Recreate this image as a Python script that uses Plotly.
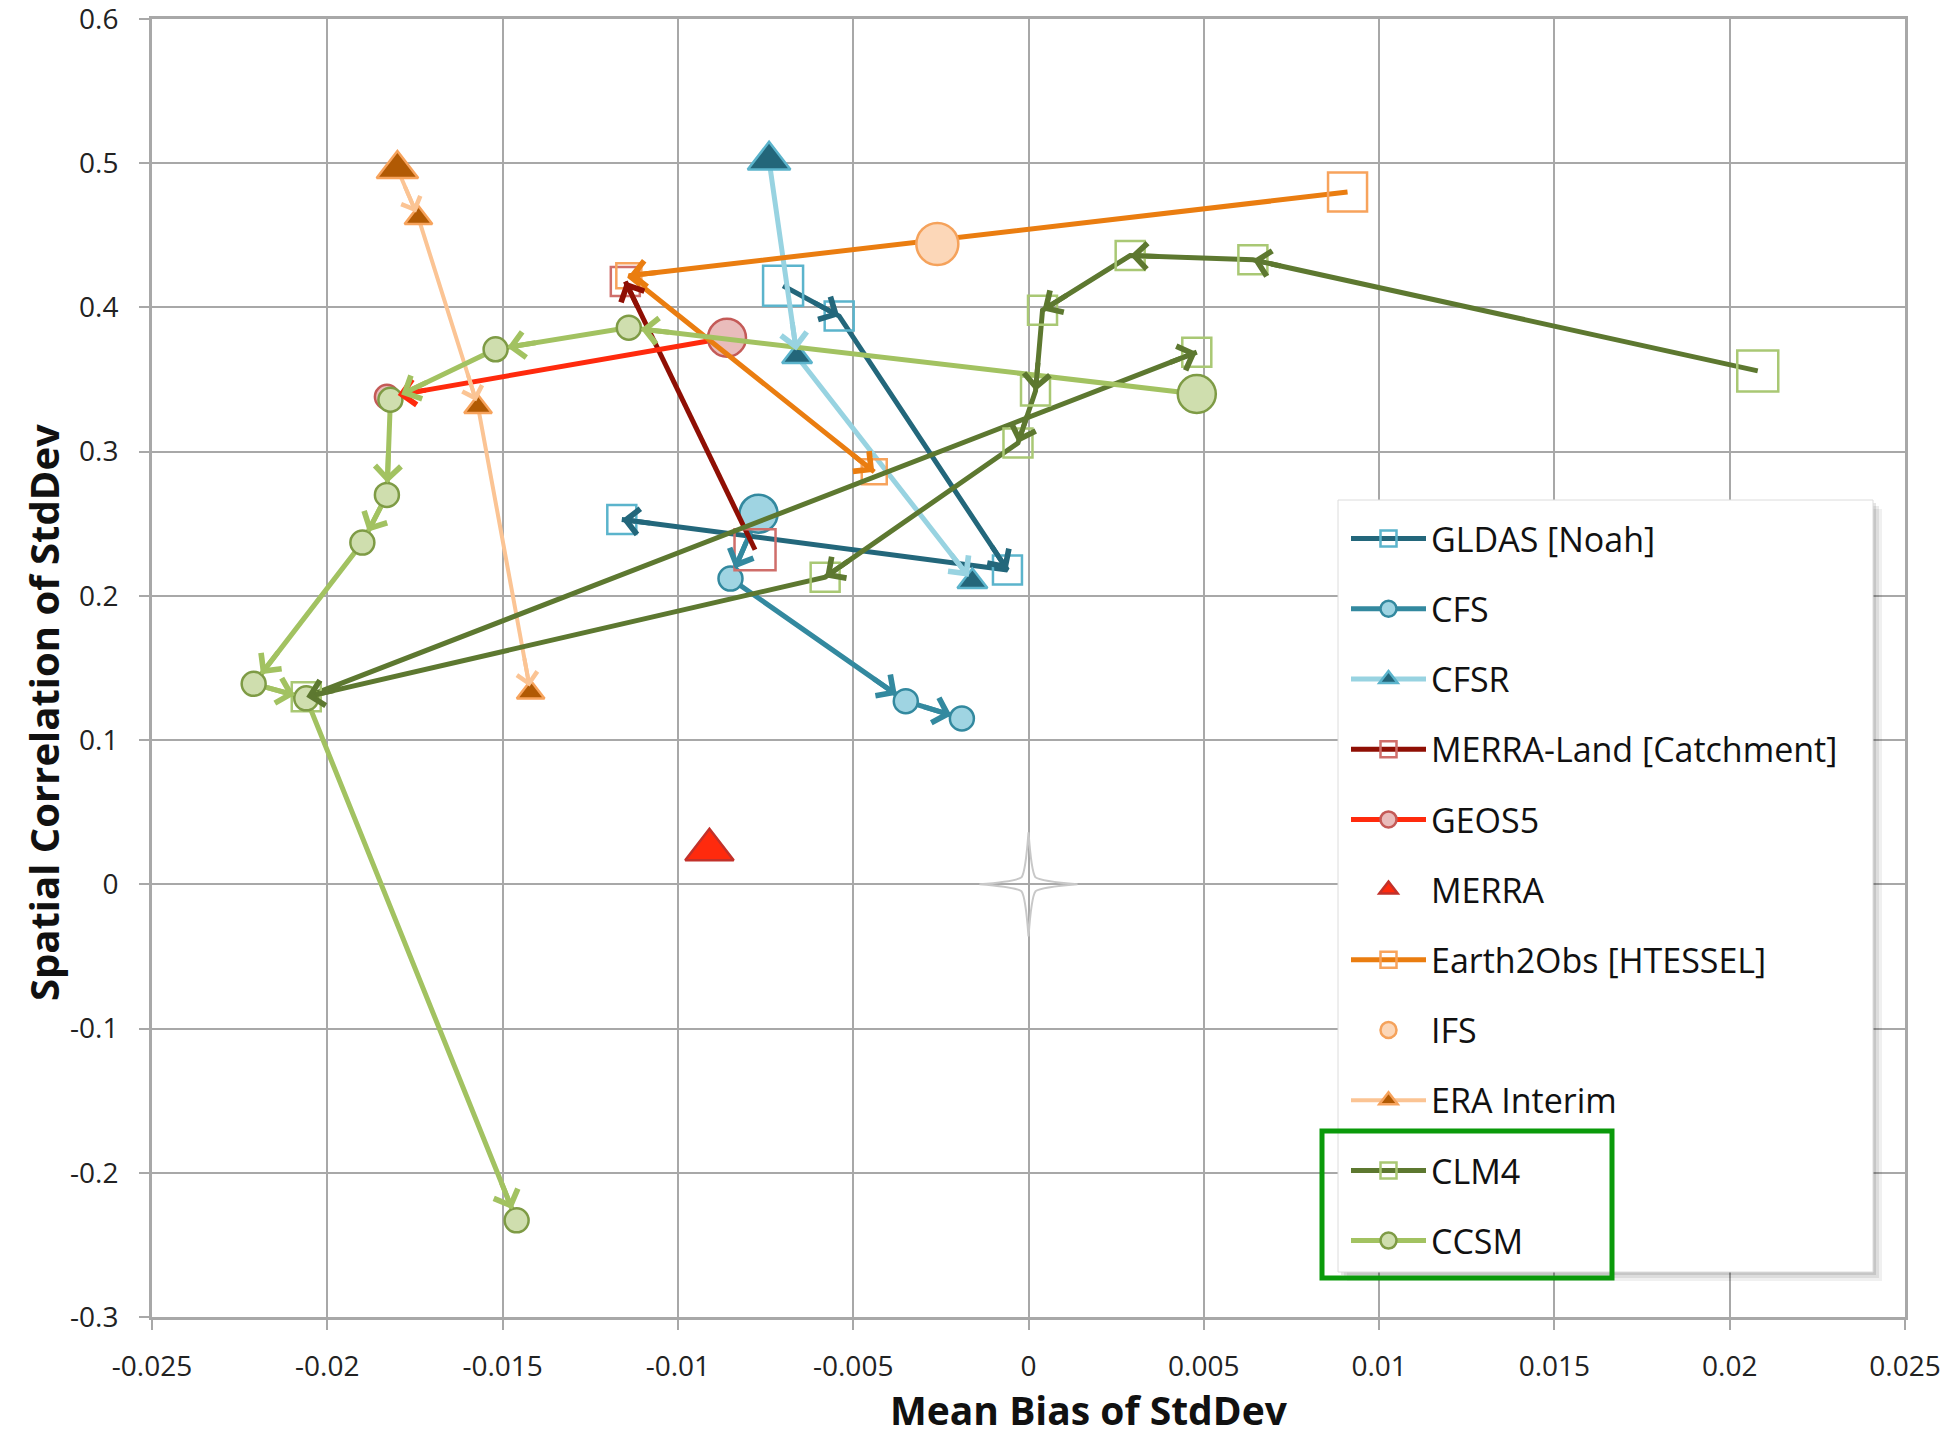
import math
import plotly.graph_objects as go

# Mean bias of StdDev (x) and spatial correlation of StdDev (y) per model run
GLDAS_X = [-0.0070, -0.0054, -0.0006, -0.0116]
GLDAS_Y = [0.415, 0.394, 0.218, 0.253]
CFS_X = [-0.0077, -0.0085, -0.0035, -0.0019]
CFS_Y = [0.257, 0.212, 0.127, 0.115]
CFSR_X = [-0.0074, -0.0066, -0.0016]
CFSR_Y = [0.502, 0.366, 0.210]
MERRA_LAND_X = [-0.0078, -0.0115]
MERRA_LAND_Y = [0.232, 0.418]
GEOS5_X = [-0.0086, -0.0183]
GEOS5_Y = [0.379, 0.338]
MERRA_X = [-0.0091]
MERRA_Y = [0.024]
EARTH2OBS_X = [0.0091, -0.0114, -0.0044]
EARTH2OBS_Y = [0.480, 0.422, 0.286]
IFS_X = [-0.0026]
IFS_Y = [0.444]
ERAI_X = [-0.0180, -0.0174, -0.0157, -0.0142]
ERAI_Y = [0.496, 0.462, 0.331, 0.133]
CLM4_X = [0.0208, 0.0064, 0.0029, 0.0004, 0.0002, -0.0003, -0.0058, -0.0206, 0.0048]
CLM4_Y = [0.356, 0.433, 0.436, 0.398, 0.342, 0.306, 0.213, 0.130, 0.369]
CCSM_X = [0.0048, -0.0114, -0.0152, -0.0182, -0.0183, -0.0190, -0.0221, -0.0206, -0.0146]
CCSM_Y = [0.340, 0.386, 0.371, 0.336, 0.270, 0.237, 0.139, 0.129, -0.233]

# perfect-score reference point
REF_X = [0.0]
REF_Y = [0.0]

X_TICKS = [-0.025, -0.02, -0.015, -0.01, -0.005, 0, 0.005, 0.01, 0.015, 0.02, 0.025]
X_TICK_TEXT = ["-0.025", "-0.02", "-0.015", "-0.01", "-0.005", "0",
               "0.005", "0.01", "0.015", "0.02", "0.025"]
Y_TICKS = [-0.3, -0.2, -0.1, 0, 0.1, 0.2, 0.3, 0.4, 0.5, 0.6]
Y_TICK_TEXT = ["-0.3", "-0.2", "-0.1", "0", "0.1", "0.2", "0.3", "0.4", "0.5", "0.6"]

X_TITLE = "Mean Bias of StdDev"
Y_TITLE = "Spatial Correlation of StdDev"

# name, x, y, line colour, symbol, fill, outline, first size, later size, arrow standoff, line width
SERIES = [
    ("GLDAS [Noah]", GLDAS_X, GLDAS_Y, "#23677b", "square", "rgba(255,255,255,0)", "#5bb4cc", 40, 29, 0, 5),
    ("CFS", CFS_X, CFS_Y, "#33899f", "circle", "#9fd4e2", "#33899f", 38, 24, 11, 5),
    ("CFSR", CFSR_X, CFSR_Y, "#98d3e1", "triangle-up", "#23667a", "#5bb4cc", 37, 26, 6, 5),
    ("MERRA-Land [Catchment]", MERRA_LAND_X, MERRA_LAND_Y, "#8f0f04", "square", "rgba(255,255,255,0)", "#cf6e6a", 41, 29, 0, 5),
    ("GEOS5", GEOS5_X, GEOS5_Y, "#ff2a0d", "circle", "#e9bcbb", "#c45a57", 38, 24, 11, 5),
    ("MERRA", MERRA_X, MERRA_Y, None, "triangle-up", "#ff2a0d", "#c2312a", 42, 42, 0, 0),
    ("Earth2Obs [HTESSEL]", EARTH2OBS_X, EARTH2OBS_Y, "#ea7d10", "square", "rgba(255,255,255,0)", "#f7a35c", 39, 25, 0, 5),
    ("IFS", IFS_X, IFS_Y, None, "circle", "#fcd7b8", "#f5a25b", 42, 42, 0, 0),
    ("ERA Interim", ERAI_X, ERAI_Y, "#fbc494", "triangle-up", "#b15a04", "#f7a35c", 36, 24, 6, 4),
    ("CLM4", CLM4_X, CLM4_Y, "#5d7830", "square", "rgba(255,255,255,0)", "#a9c874", 41, 29, 0, 5),
    ("CCSM", CCSM_X, CCSM_Y, "#a2c261", "circle", "#cfdeae", "#7e9b45", 38, 24, 12, 5),
]

W, H = 1952, 1442
M_L, M_R, M_T, M_B = 152, 47, 19, 125
PLOT_W = W - M_L - M_R
PLOT_H = H - M_T - M_B
X_RANGE = [-0.025, 0.025]
Y_RANGE = [-0.3, 0.6]
PX_PER_X = PLOT_W / (X_RANGE[1] - X_RANGE[0])
PX_PER_Y = PLOT_H / (Y_RANGE[1] - Y_RANGE[0])
HEAD_SHAFT = 30  # length (px) of the arrow stub drawn at each segment end

GRID = "#a8a8a8"
FONT = "Open Sans"

fig = go.Figure()

annotations = []
for (name, xs, ys, lcol, sym, fill, edge, big, small, standoff, lw) in SERIES:
    sizes = [big] + [small] * (len(xs) - 1)
    has_line = lcol is not None
    fig.add_trace(go.Scatter(
        x=xs, y=ys, name=name, legendgroup=name,
        mode="lines+markers" if has_line else "markers",
        line=dict(color=lcol or edge, width=lw),
        marker=dict(symbol=sym, size=sizes, color=fill, opacity=1,
                    line=dict(color=edge, width=2.5)),
    ))
    if not has_line:
        continue
    # open arrowheads at the end of every segment
    for i in range(1, len(xs)):
        x0, y0, x1, y1 = xs[i - 1], ys[i - 1], xs[i], ys[i]
        seg = math.hypot((x1 - x0) * PX_PER_X, (y1 - y0) * PX_PER_Y)
        f = min(1.0, (HEAD_SHAFT + standoff) / seg)
        annotations.append(dict(
            x=x1, y=y1, ax=x1 - (x1 - x0) * f, ay=y1 - (y1 - y0) * f,
            xref="x", yref="y", axref="x", ayref="y", text="",
            showarrow=True, arrowhead=4, arrowsize=1.0, arrowwidth=lw,
            arrowcolor=lcol, standoff=standoff,
        ))

# axis titles
annotations.append(dict(
    text="<b>" + X_TITLE + "</b>", xref="paper", yref="paper",
    x=(1089 - M_L) / PLOT_W, y=-(1410 - (H - M_B)) / PLOT_H,
    xanchor="center", yanchor="middle", showarrow=False,
    font=dict(family=FONT, size=39, color="#111111"),
))
annotations.append(dict(
    text="<b>" + Y_TITLE + "</b>", xref="paper", yref="paper",
    x=(44 - M_L) / PLOT_W, y=((H - M_B) - 713) / PLOT_H, textangle=-90,
    xanchor="center", yanchor="middle", showarrow=False,
    font=dict(family=FONT, size=40, color="#111111"),
))


def px_x(px):
    return (px - M_L) / PLOT_W


def px_y(py):
    return ((H - M_B) - py) / PLOT_H


shapes = []
# four-point reference star at the origin, sized in pixels
shapes.append(dict(type="path", xref="x", yref="y",
                   xsizemode="pixel", ysizemode="pixel",
                   xanchor=REF_X[0], yanchor=REF_Y[0],
                   path="M-49,0 Q-12,-3 -7,-7 Q-3,-12 0,-52 Q3,-12 7,-7 Q12,-3 49,0 "
                        "Q12,3 7,7 Q3,12 0,52 Q-3,12 -7,7 Q-12,3 -49,0 Z",
                   fillcolor="rgba(255,255,255,0)", line=dict(color="#c8c8c8", width=2),
                   layer="between"))

# legend panel, its soft shadow and the highlight frame round the last two entries
lg_l, lg_r, lg_t, lg_b = 1338, 1873, 500, 1272
for off, op in [(9, 0.06), (6, 0.08), (3, 0.10)]:
    shapes.append(dict(type="rect", xref="paper", yref="paper",
                       x0=px_x(lg_l + off), x1=px_x(lg_r + off),
                       y0=px_y(lg_b + off), y1=px_y(lg_t + off),
                       fillcolor="rgba(0,0,0,%s)" % op, line=dict(width=0), layer="above"))
shapes.append(dict(type="rect", xref="paper", yref="paper",
                   x0=px_x(lg_l), x1=px_x(lg_r), y0=px_y(lg_b), y1=px_y(lg_t),
                   fillcolor="white", line=dict(color="#dcdcdc", width=1), layer="above"))
shapes.append(dict(type="rect", xref="paper", yref="paper",
                   x0=px_x(1322), x1=px_x(1612), y0=px_y(1278), y1=px_y(1131),
                   fillcolor="rgba(0,0,0,0)", line=dict(color="#0a9a0a", width=5), layer="above"))

axis_common = dict(
    showgrid=True, gridcolor=GRID, gridwidth=2,
    showline=True, linecolor=GRID, linewidth=3, mirror=True,
    ticks="outside", ticklen=10, tickwidth=2, tickcolor=GRID,
    zeroline=False, tickfont=dict(family=FONT, size=28, color="#222222"),
    ticklabeloverflow="allow",
)

fig.update_layout(
    width=W, height=H,
    margin=dict(l=M_L, r=M_R, t=M_T, b=M_B, autoexpand=False),
    paper_bgcolor="white", plot_bgcolor="white",
    xaxis=dict(range=X_RANGE, tickvals=X_TICKS, ticktext=X_TICK_TEXT,
               ticklabelstandoff=12, **axis_common),
    yaxis=dict(range=Y_RANGE, tickvals=Y_TICKS, ticktext=Y_TICK_TEXT,
               ticklabelstandoff=15, **axis_common),
    legend=dict(x=px_x(1346), y=px_y(510), xanchor="left", yanchor="top",
                bgcolor="rgba(0,0,0,0)", borderwidth=0,
                font=dict(family=FONT, size=34, color="#111111"),
                tracegroupgap=23, itemwidth=75),
    showlegend=True,
    annotations=annotations,
    shapes=shapes,
)

fig.write_html("out.html")
